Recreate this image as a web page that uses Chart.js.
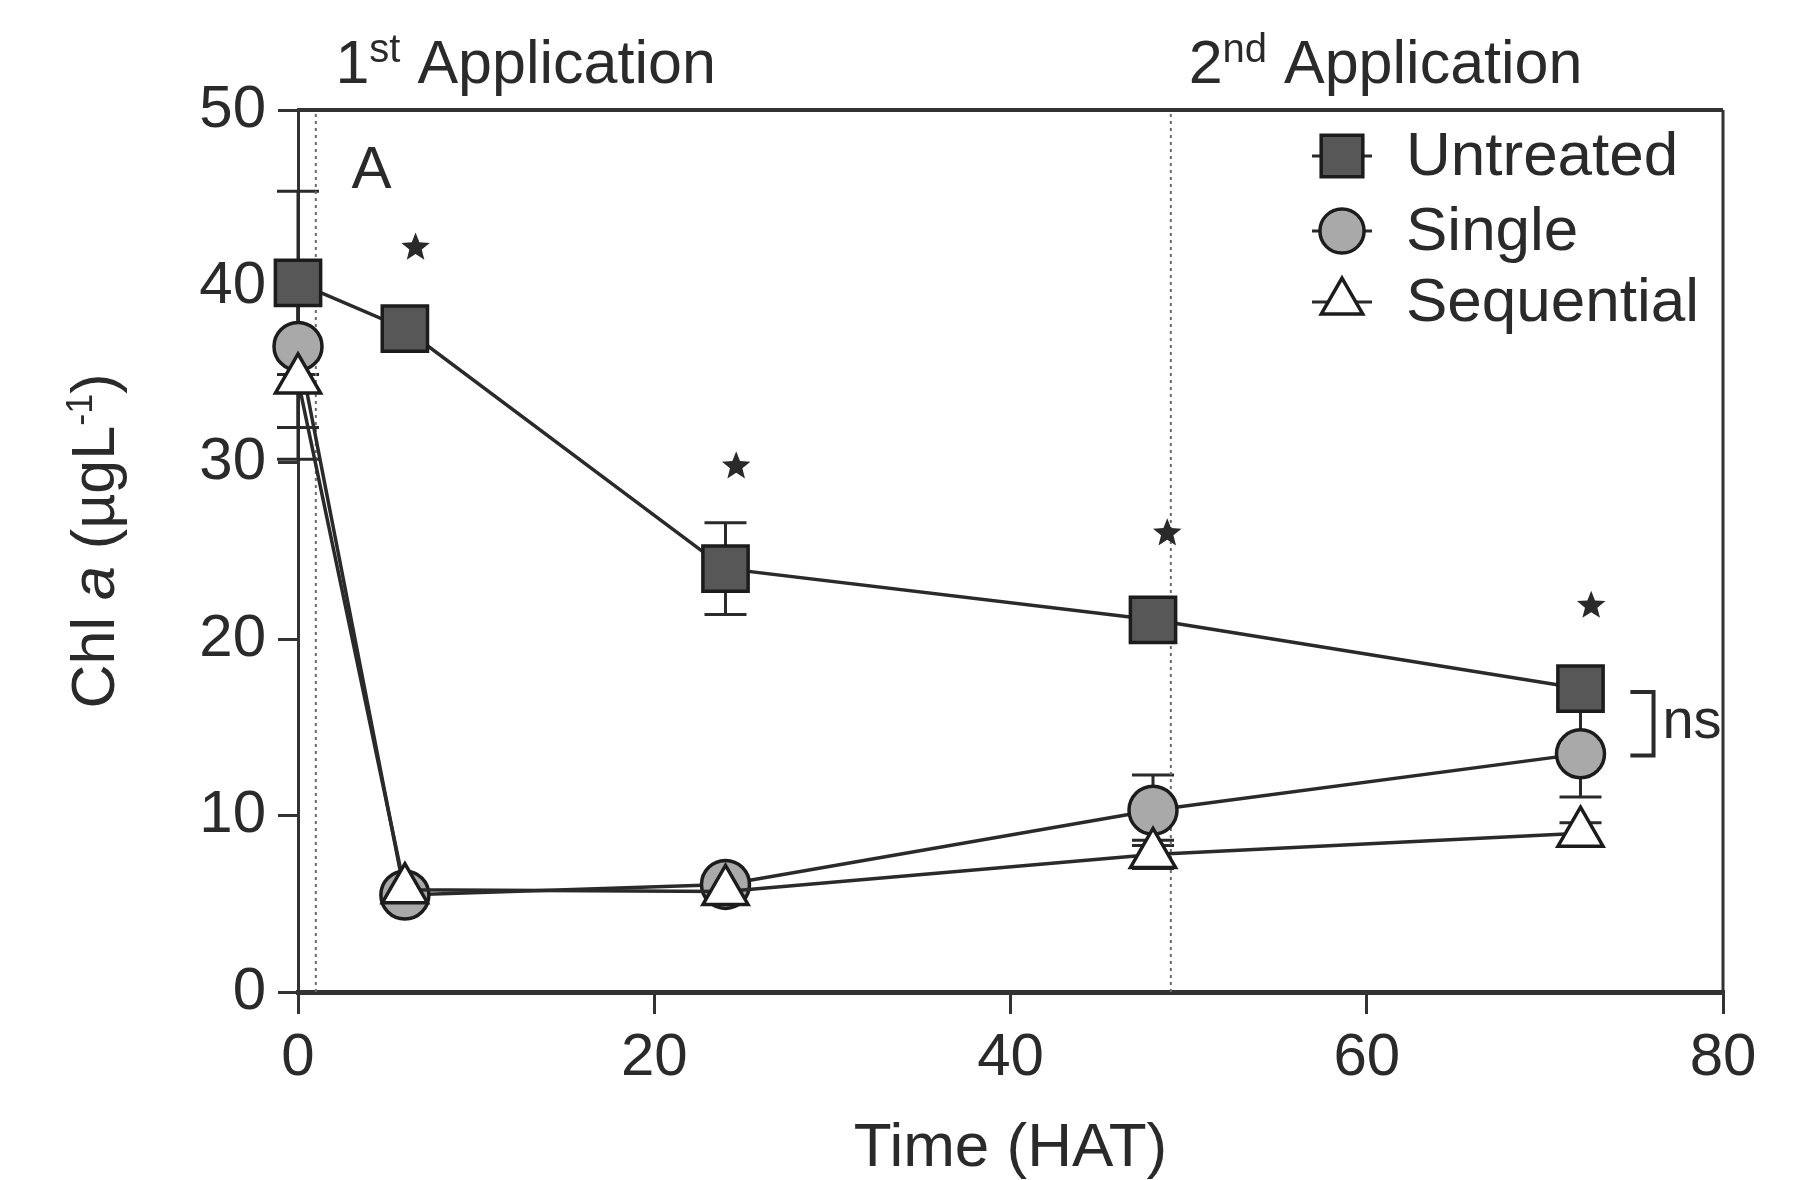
<!DOCTYPE html>
<html>
<head>
<meta charset="utf-8">
<title>Chl a after application</title>
<script src="https://cdn.jsdelivr.net/npm/chart.js@4.4.1/dist/chart.umd.min.js"></script>
<style>
  html, body { margin: 0; padding: 0; background: #fff; }
  #chart { display: block; }
</style>
</head>
<body>
<canvas id="chart" width="1810" height="1180"></canvas>
<script>
// values: Chl a (ug/L) vs hours after treatment
const timeHAT = [0, 6, 24, 48, 72];
const untreated = [40.2, 37.6, 24.0, 21.1, 17.2];
const untreatedErr = [5.2, 0.8, 2.6, 0.6, 0.6];
const single = [36.6, 5.5, 6.1, 10.3, 13.5];
const singleErr = [4.6, 0.5, 0.5, 2.0, 2.45];
const sequential = [34.7, 5.8, 5.7, 7.8, 9.0];
const sequentialErr = [4.5, 0.4, 0.4, 0.8, 0.6];

const xTicks = [0, 20, 40, 60, 80];
const yTicks = [0, 10, 20, 30, 40, 50];
const applicationHAT = [1, 49];
const applicationLabels = [['1', 'st'], ['2', 'nd']];

// significance marks
const starX = [6.6, 24.6, 48.8, 72.6];
const starY = [42.2, 29.8, 26.0, 21.9];
const nsBracketX = [74.8, 76.1];
const nsBracketY = [17.0, 13.4];

const FONT = "'Liberation Sans', Arial, Helvetica, sans-serif";
const INK = '#2a2a2a';

const series = [
  { label: 'Untreated', values: untreated, err: untreatedErr, style: 'rect', radius: 32, fill: '#575757', order: 3 },
  { label: 'Single', values: single, err: singleErr, style: 'circle', radius: 24, fill: '#a9a9a9', order: 2 },
  { label: 'Sequential', values: sequential, err: sequentialErr, style: 'triangle', radius: 26, fill: '#ffffff', order: 1 }
];

function pts(ys) {
  return timeHAT.map((t, i) => ({ x: t, y: ys[i] }));
}

const datasets = series.map(s => ({
  label: s.label,
  data: pts(s.values),
  order: s.order,
  clip: false,
  borderColor: INK,
  borderWidth: 3.5,
  tension: 0,
  pointStyle: s.style,
  pointRadius: s.radius,
  pointBackgroundColor: s.fill,
  pointBorderColor: '#1c1c1c',
  pointBorderWidth: 3.5
}));

// dotted lines for the two applications
applicationHAT.forEach(t => {
  datasets.push({
    label: 'app' + t,
    data: [{ x: t, y: 0 }, { x: t, y: 50 }],
    order: 10,
    borderColor: '#6a6a6a',
    borderWidth: 2,
    borderDash: [3, 4],
    pointRadius: 0
  });
});

function richText(ctx, parts, x, y, measureOnly) {
  let cx = x;
  parts.forEach(p => {
    ctx.font = (p.italic ? 'italic ' : '') + p.size + 'px ' + FONT;
    if (!measureOnly) ctx.fillText(p.t, cx, y + (p.dy || 0));
    cx += ctx.measureText(p.t).width;
  });
  return cx - x;
}

function star(ctx, cx, cy, R, r) {
  ctx.beginPath();
  for (let i = 0; i < 10; i++) {
    const a = -Math.PI / 2 + i * Math.PI / 5;
    const rr = i % 2 === 0 ? R : r;
    const px = cx + Math.cos(a) * rr, py = cy + Math.sin(a) * rr;
    if (i === 0) ctx.moveTo(px, py); else ctx.lineTo(px, py);
  }
  ctx.closePath();
  ctx.fill();
}

const decor = {
  id: 'decor',
  beforeDatasetsDraw(chart) {
    const { ctx, scales: { x, y } } = chart;
    const cap = 21;
    ctx.save();
    ctx.strokeStyle = INK;
    ctx.lineWidth = 3;
    series.forEach(s => {
      s.values.forEach((v, i) => {
        const px = x.getPixelForValue(timeHAT[i]);
        const top = y.getPixelForValue(v + s.err[i]);
        const bot = y.getPixelForValue(v - s.err[i]);
        ctx.beginPath();
        ctx.moveTo(px, top); ctx.lineTo(px, bot);
        ctx.moveTo(px - cap, top); ctx.lineTo(px + cap, top);
        ctx.moveTo(px - cap, bot); ctx.lineTo(px + cap, bot);
        ctx.stroke();
      });
    });
    ctx.restore();
  },
  afterDraw(chart) {
    const { ctx, chartArea: a, scales: { x, y } } = chart;
    ctx.save();

    // rest of the frame
    ctx.strokeStyle = '#333';
    ctx.lineWidth = 4;
    ctx.beginPath();
    ctx.moveTo(a.left - 1, a.top); ctx.lineTo(a.right, a.top);
    ctx.stroke();
    ctx.lineWidth = 3;
    ctx.beginPath();
    ctx.moveTo(a.right, a.top); ctx.lineTo(a.right, a.bottom);
    ctx.stroke();

    ctx.fillStyle = INK;
    ctx.textBaseline = 'alphabetic';
    ctx.textAlign = 'left';

    // application labels
    const appLeft = [2.1, 50.0];
    applicationLabels.forEach((lab, i) => {
      richText(ctx, [
        { t: lab[0], size: 61 },
        { t: lab[1], size: 40, dy: -21 },
        { t: ' Application', size: 61 }
      ], x.getPixelForValue(appLeft[i]), 83);
    });

    // panel letter
    ctx.font = '60px ' + FONT;
    ctx.fillText('A', x.getPixelForValue(3.0), y.getPixelForValue(45.6));

    // stars
    starX.forEach((sx, i) => star(ctx, x.getPixelForValue(sx), y.getPixelForValue(starY[i]), 15, 6.5));

    // ns bracket
    const bx0 = x.getPixelForValue(nsBracketX[0]), bx1 = x.getPixelForValue(nsBracketX[1]);
    const by0 = y.getPixelForValue(nsBracketY[0]), by1 = y.getPixelForValue(nsBracketY[1]);
    ctx.strokeStyle = INK;
    ctx.lineWidth = 4;
    ctx.beginPath();
    ctx.moveTo(bx0, by0); ctx.lineTo(bx1, by0); ctx.lineTo(bx1, by1); ctx.lineTo(bx0, by1);
    ctx.stroke();
    ctx.font = '56px ' + FONT;
    ctx.textBaseline = 'middle';
    ctx.fillText('ns', x.getPixelForValue(76.6), y.getPixelForValue(15.3));

    // y axis title, rotated, with italic a and superscript
    const yParts = [
      { t: 'Chl ', size: 61 },
      { t: 'a', size: 61, italic: true },
      { t: ' (\u00b5gL', size: 61 },
      { t: '-1', size: 36, dy: -22 },
      { t: ')', size: 61 }
    ];
    ctx.textBaseline = 'alphabetic';
    ctx.save();
    ctx.translate(114, (a.top + a.bottom) / 2 - 10);
    ctx.rotate(-Math.PI / 2);
    const w = richText(ctx, yParts, 0, 0, true);
    richText(ctx, yParts, -w / 2, 0);
    ctx.restore();

    // legend
    const legX = 1342, legRows = [156, 231, 302], legTextX = 1406;
    series.forEach((s, i) => {
      const ly = legRows[i];
      ctx.strokeStyle = INK;
      ctx.lineWidth = 3;
      ctx.beginPath();
      ctx.moveTo(legX - 30, ly); ctx.lineTo(legX + 30, ly);
      ctx.stroke();
      ctx.fillStyle = s.fill;
      ctx.strokeStyle = '#1c1c1c';
      ctx.lineWidth = 3.5;
      Chart.helpers.drawPoint(ctx, { pointStyle: s.style, radius: s.radius * 0.92, borderWidth: 3.5, rotation: 0 }, legX, ly);
      ctx.fillStyle = INK;
      ctx.font = '62px ' + FONT;
      ctx.textBaseline = 'middle';
      ctx.fillText(s.label, legTextX, ly + 2);
    });

    ctx.restore();
  }
};

new Chart(document.getElementById('chart'), {
  type: 'line',
  data: { datasets },
  options: {
    responsive: false,
    animation: false,
    events: [],
    layout: { padding: { left: 0, right: 87, top: 110, bottom: 0 } },
    plugins: { legend: { display: false }, tooltip: { enabled: false } },
    scales: {
      x: {
        type: 'linear',
        min: 0,
        max: 80,
        afterFit: s => { s.height = 188; },
        afterBuildTicks: s => { s.ticks = xTicks.map(v => ({ value: v })); },
        grid: { drawOnChartArea: false, drawTicks: true, tickLength: 22, color: '#333', lineWidth: 3 },
        border: { display: true, color: '#333', width: 5 },
        ticks: { color: INK, padding: 8, font: { family: FONT, size: 60 } },
        title: { display: true, text: 'Time (HAT)', color: INK, font: { family: FONT, size: 62, lineHeight: 1 }, padding: { top: 2, bottom: 0 } }
      },
      y: {
        type: 'linear',
        min: 0,
        max: 50,
        afterFit: s => { s.width = 298; },
        afterBuildTicks: s => { s.ticks = yTicks.map(v => ({ value: v })); },
        grid: { drawOnChartArea: false, drawTicks: true, tickLength: 20, color: '#333', lineWidth: 3 },
        border: { display: true, color: '#333', width: 3 },
        ticks: { color: INK, padding: 12, font: { family: FONT, size: 60 } }
      }
    }
  },
  plugins: [decor]
});
</script>
</body>
</html>
